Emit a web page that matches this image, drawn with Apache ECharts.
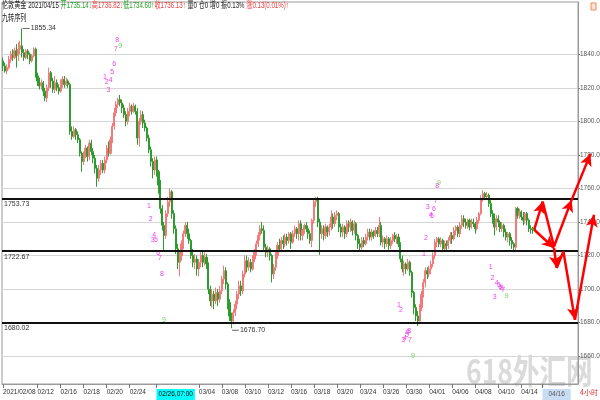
<!DOCTYPE html>
<html><head><meta charset="utf-8">
<script src="https://cdn.jsdelivr.net/npm/echarts@6/dist/echarts.min.js"></script>
<style>html,body{margin:0;padding:0;background:#fff}#c{width:600px;height:400px}</style>
</head><body><div id="c"></div>
<script>
// [open, close, low, high] per 4h bar
const candles1 = [
[1836,1833,1830,1838],[1833,1830,1829,1835],[1830,1832,1828,1834],[1832,1837,1831,1839],[1837,1840,1835,1842],
[1840,1838,1836,1843],[1838,1842,1837,1844],[1842,1839,1832,1846],[1839,1843,1836,1847],[1843,1845,1840,1848],
[1845,1841,1838,1855.34],[1841,1838,1836,1843],[1838,1842,1837,1843],[1842,1840,1837,1843],[1840,1836,1834,1841],
[1836,1839,1835,1840],[1839,1843,1838,1844],[1843,1827,1826,1844],[1827,1824,1821,1829],[1824,1821,1819,1826],
[1821,1823,1819,1825],[1823,1818,1815,1824],[1818,1814,1812,1820],[1814,1820,1811.5,1822],[1820,1829,1818,1832],
[1829,1824,1820,1830],[1824,1819,1817,1826],[1819,1823,1817,1827],[1823,1820,1818,1825],[1820,1818,1816,1822],
[1818,1822,1817,1825],[1822,1825,1820,1827],[1825,1822,1820,1827],[1822,1824,1821,1826],[1824,1822,1820,1825],
[1822,1794,1792,1823],[1794,1791,1789,1797],[1791,1795,1790,1797],[1795,1792,1789,1796],[1792,1789,1787,1794],
[1789,1781,1779,1790],[1781,1776,1770,1782],[1776,1780,1774,1782],[1780,1784,1778,1786],[1784,1779,1776,1785],
[1779,1787,1777,1789],[1787,1782,1780,1789],[1782,1778,1775,1784],[1778,1772,1769,1780],[1772,1766,1761,1774],
[1766,1771,1764,1774],[1771,1775,1768,1777],[1775,1771,1769,1777],[1771,1777,1769,1779],[1777,1784,1775,1786],
[1784,1781,1779,1788],[1781,1789,1780,1791],[1789,1797,1787,1799],[1797,1805,1795,1808],[1805,1810,1803,1812],
[1810,1813,1808,1814],[1813,1811,1809,1815.7],[1811,1808,1805,1813],[1808,1804,1802,1810],[1804,1800,1797,1806],
[1800,1806,1798,1808],[1806,1809,1803,1811],[1809,1806,1804,1810],[1806,1809,1805,1811],[1809,1806,1804,1810],
[1806,1790,1786,1808],[1790,1800,1785,1802],[1800,1804,1798,1806.5],[1804,1799,1796,1806],[1799,1796,1794,1801],
[1796,1790,1788,1797],[1790,1783,1781,1792],[1783,1776,1773,1785],[1776,1771,1766,1778],[1771,1777,1768,1779],
[1777,1770,1767,1779],[1770,1762,1757,1771],[1762,1748,1745,1765],[1748,1738,1735,1750],[1738,1732,1723,1740],
[1732,1745,1730,1747],[1745,1752,1743,1755],[1752,1758,1749,1760],[1758,1745,1742,1759],[1745,1736,1733,1747],
[1736,1724,1721,1738],[1724,1716,1712,1727],[1716,1720,1707.6,1723]
];
const candles2 = [
[1720,1727,1717,1729],[1727,1733,1724,1735],[1733,1738,1731,1740],[1738,1733,1730,1740],[1733,1729,1727,1736],
[1729,1720,1718,1730],[1720,1716,1713,1724],[1716,1718,1712,1721],[1718,1712,1708,1720],[1712,1716,1707.6,1718],
[1716,1720,1713,1722],[1720,1716,1713,1722.5],[1716,1719,1714,1722],[1719,1715,1712,1721],[1715,1700,1697,1716],
[1700,1693,1690,1702],[1693,1697,1689,1700],[1697,1693,1688,1699],[1693,1698,1691,1701],[1698,1694,1690,1700],
[1694,1699,1692,1702],[1699,1706,1697,1708],[1706,1711,1703,1714],[1711,1703,1700,1713],[1703,1692,1688,1704],
[1692,1684,1681,1694],[1684,1681,1676.7,1686],[1681,1686,1679,1688],[1686,1691,1684,1693],[1691,1697,1688,1699],
[1697,1702,1694,1705],[1702,1699,1696,1705],[1699,1709,1697,1711],[1709,1717,1707,1720],[1717,1713,1710,1720],
[1713,1716,1711,1719],[1716,1712,1710,1718],[1712,1718,1711,1720],[1718,1722,1716,1724],[1722,1727,1720,1729],
[1727,1732,1725,1734],[1732,1736,1729,1738],[1736,1735,1733,1740],[1735,1725,1723,1738],[1725,1722,1719,1727],
[1722,1724,1719,1726],[1724,1720,1717,1725],[1720,1709,1704,1721],[1709,1713,1706,1715],[1713,1720,1711,1722],
[1720,1726,1718,1728],[1726,1724,1722,1730],[1724,1729,1722,1731],[1729,1727,1724,1732],[1727,1731,1725,1733],
[1731,1729,1726,1733],[1729,1733,1727,1734],[1733,1728,1724,1734],[1728,1733,1727,1735],[1733,1736,1731,1738],
[1736,1733,1730,1737],[1733,1739,1729,1741],[1739,1732,1729,1741],[1732,1735,1729,1736],[1735,1738,1733,1739],
[1738,1736,1734,1740],[1736,1733,1730,1738],[1733,1729,1727,1735],[1729,1741,1725,1742],[1741,1752,1739,1754],
[1752,1754,1749,1755],[1754,1740,1737,1755],[1740,1733,1720.5,1742],[1733,1736,1730,1738],[1736,1732,1729,1738],
[1732,1737,1730,1739],[1737,1734,1731,1738],[1734,1737,1732,1739],[1737,1743,1735,1747],[1743,1739,1736,1745],
[1739,1744,1737,1746],[1744,1745,1741,1747],[1745,1737,1734,1746],[1737,1734,1731,1739],[1734,1737,1731,1739],
[1737,1733,1730,1738],[1733,1739,1731,1741],[1739,1737,1734,1741],[1737,1740,1734,1742],[1740,1735,1732,1741],
[1735,1739,1733,1741],[1739,1732,1729,1740],[1732,1727,1724,1733]
];
const candles3 = [
[1727,1725,1722.5,1730],[1725,1729,1723,1731],[1729,1727,1725,1731],[1727,1731,1726,1733],[1731,1734,1729,1736],
[1734,1731,1729,1736],[1731,1734,1729,1736],[1734,1732,1730,1735],[1732,1735,1731,1737],[1735,1733,1731,1737],
[1733,1738,1731,1743],[1738,1728,1726,1740],[1728,1730,1725,1732],[1730,1727,1724,1731],[1727,1730,1725,1732],
[1730,1726,1723.5,1731],[1726,1729,1724,1731],[1729,1732,1727,1733],[1732,1730,1728,1734],[1730,1731,1727,1733],
[1731,1727,1725,1733],[1727,1718,1716,1728],[1718,1712,1710,1720],[1712,1715,1708,1717],[1715,1712,1709,1716],
[1712,1716,1711,1718],[1716,1710,1708,1717],[1710,1698,1695,1711],[1698,1689,1685,1699],[1689,1684,1681,1691],
[1684,1681,1678,1687],[1681,1689,1679,1691],[1689,1697,1687,1699],[1697,1704,1695,1706],[1704,1711,1701,1713],
[1711,1709,1706,1713],[1709,1712,1707,1714],[1712,1715,1709,1717],[1715,1720,1713,1722],[1720,1728,1718,1730],
[1728,1730,1725,1731],[1730,1727,1725,1731],[1727,1729,1725,1731],[1729,1724,1722,1730],[1724,1727,1722,1729],
[1727,1726,1723,1729],[1726,1729,1724,1731],[1729,1732,1727,1734],[1732,1730,1727,1734],[1730,1735,1729,1737],
[1735,1737,1732,1738],[1737,1733,1731,1738],[1733,1738,1731,1740],[1738,1742,1736,1744],[1742,1740,1737,1744],
[1740,1738,1736,1742],[1738,1741,1736,1742],[1741,1737,1735,1742],[1737,1740,1736,1742],[1740,1739,1737,1742],
[1739,1736,1733,1740],[1736,1741,1735,1743],[1741,1745,1739,1746],[1745,1754,1744,1756],[1754,1757,1752,1759],
[1757,1755,1753,1758],[1755,1756,1753,1758],[1756,1751,1749,1757],[1751,1745,1743,1753],[1745,1741,1739,1747],
[1741,1737,1732,1745],[1737,1742,1735,1744],[1742,1740,1737,1744],[1740,1736,1734,1741],[1736,1738,1734,1740],
[1738,1734,1731,1739],[1734,1731,1729,1736],[1731,1733,1728,1734],[1733,1729,1726,1734],[1729,1727,1724,1731],
[1727,1725,1722,1728],[1725,1748,1723,1749],[1748,1744,1742,1749],[1744,1746,1742,1748],[1746,1743,1741,1747],
[1743,1741,1738,1746],[1741,1745,1739,1746],[1745,1741,1738,1746],[1741,1736,1734,1742],[1736,1735.5,1733,1738],
[1735.5,1735.14,1733,1737],[1735.14,1736.13,1734.60,1736.82]
];
const xTickIdx  = [0,18,30,42,54,66,80,102,114,126,138,150,162,174,186,198,210,222,234,246,258,270,281];
const xTickText = ['2021/02/08','02/12','02/16','02/18','02/20','02/24','02/26,07:00','03/04','03/08','03/10','03/12','03/16','03/18','03/20','03/24','03/26','03/30','04/01','04/06','04/08','04/10','04/14','04/16'];
const yTicks = [1660,1680,1700,1720,1740,1760,1780,1800,1820,1840];
const levels = [1753.73,1722.67,1680.02];
const lastPrice = 1736.13;
const highMark = [10,1855.34];
const lowMark = [119,1676.70];
const forecastUp = [[276.7,1735.4],[281.1,1752.2],[287,1725.4],[296.2,1753.2],[306,1780.6]];
const forecastUpArrow = [1,0,1,1];
const forecastDown = [[276.7,1735.4],[287,1724.5],[288.4,1712.6],[291.9,1722.4],[297.9,1681.8],[307.8,1744.3]];
const forecastDownArrow = [1,1,0,1,1];
const tdCounts = [
[53.1,1826.5,1],[54,1823.3,2],[54.9,1818.7,3],[56.1,1824.6,4],[56.9,1829.6,5],[58,1833.9,6],[58.9,1843.1,7],[59.5,1848.4,8],[61,1845,9],
[76,1749.6,1],[76.9,1741.7,2],[78,1729,3],[78.8,1732.4,4],[79.7,1729,5],[80.9,1721.5,6],[81.8,1718.5,7],[82.8,1709.2,8],[83.9,1681.8,9],
[206.3,1690.7,1],[207.3,1687.3,2],[208.5,1669.9,3],[209.4,1670.8,4],[210.4,1672.6,5],[210.9,1674.6,6],[212,1669.5,7],[211.6,1675.2,8],[213.5,1660.4,9],
[219.3,1721.1,1],[220.3,1730.4,2],[221.2,1748.9,3],[222.8,1744.3,4],[223.4,1743.7,5],[224.5,1747.7,6],[225.4,1752.2,7],[226.2,1761.5,8],[227.1,1763.5,9],
[254,1713.2,1],[255,1706.6,2],[256.1,1695.3,3],[257.1,1703.6,4],[258.3,1702.6,5],[259,1701.5,6],[260.6,1699.6,7],[259.7,1700.7,8],[262.3,1696.1,9]
];
const infoText = ['伦敦黄金','2021/04/15','量0','仓0','增0','振0.13%','涨0.13(0.01%)↑','九转序列'];

const candles = candles1.concat(candles2, candles3);
const slots = 300;
const categories = Array.from({length: slots}, (_, i) => String(i));
const labelMap = {};
xTickIdx.forEach((k, j) => { labelMap[k] = xTickText[j]; });
const yMin = 1643.47, yMax = 1871.1;
const gridL = 2, gridR = 22, gridT = 2, gridB = 16;
const step = (600 - gridL - gridR) / slots;
const wideMax = -0.5 + (600 - gridL) / step;
const NARROW = '"Liberation Sans Narrow","Liberation Sans",sans-serif';
const last = candles[candles.length - 1];

function segs(path, flags) {
  const out = [];
  for (let i = 0; i < path.length - 1; i++) {
    out.push([{coord: path[i], symbol: 'none'}, {coord: path[i + 1], symbol: flags[i] ? 'arrow' : 'none'}]);
  }
  return out;
}

const titleRich = '{k|' + infoText[0] + ' ' + infoText[1] + ' }' +
  '{g|开' + last[0].toFixed(2) + '↓}' + '{r|高' + last[3].toFixed(2) + '↓}' +
  '{g|低' + last[2].toFixed(2) + '↑}' + '{r|收' + last[1].toFixed(2) + '↑}' +
  '{k| ' + infoText[2] + ' ' + infoText[3] + ' ' + infoText[4] + ' ' + infoText[5] + ' }' +
  '{r|' + infoText[6] + '}';

const chart = echarts.init(document.getElementById('c'), null, {renderer: 'canvas'});
chart.setOption({
  animation: false,
  backgroundColor: '#ffffff',
  grid: [
    {left: gridL, right: gridR, top: gridT, bottom: gridB, show: true, borderColor: '#9a9a9a', borderWidth: 1, backgroundColor: 'transparent', outerBoundsMode: 'none'},
    {left: gridL, right: 0, top: gridT, bottom: gridB, show: false, outerBoundsMode: 'none'}
  ],
  xAxis: [
    {type: 'category', gridIndex: 0, data: categories, boundaryGap: true,
     name: '4小时', nameLocation: 'end', nameGap: 2,
     nameTextStyle: {color: '#e8302a', fontSize: 7, verticalAlign: 'top', padding: [5, 0, 0, 0], fontFamily: 'Noto Sans CJK SC'},
     axisLine: {show: true, lineStyle: {color: '#9a9a9a', width: 1}},
     axisTick: {show: true, alignWithLabel: true, length: 4, interval: (i) => labelMap[i] !== undefined, lineStyle: {color: '#777'}},
     axisLabel: {show: true, interval: (i) => labelMap[i] !== undefined, align: 'left', margin: 5,
       showMinLabel: true, showMaxLabel: true, hideOverlap: false,
       fontSize: 6.5, color: '#333', fontFamily: NARROW,
       formatter: (v, i) => {
         const t = labelMap[i];
         if (i === 80) return '{hl|' + t + '}';
         if (i === 281) return '{fut|' + t + '}';
         return t;
       },
       rich: {
         hl: {backgroundColor: '#00ffff', color: '#000', padding: [2, 2, 2, 2], fontSize: 6.5, fontFamily: NARROW},
         fut: {backgroundColor: '#c8dcf4', color: '#555', padding: [2, 6, 2, 6], fontSize: 6.5, fontFamily: NARROW}
       }},
     splitLine: {show: false}},
    {type: 'value', gridIndex: 1, min: -0.5, max: wideMax, show: false}
  ],
  yAxis: [
    {type: 'value', gridIndex: 0, position: 'right', min: yMin, max: yMax, scale: true,
     axisLine: {show: true, lineStyle: {color: '#9a9a9a'}},
     axisTick: {show: true, length: 2, customValues: yTicks, lineStyle: {color: '#777'}},
     axisLabel: {show: true, customValues: yTicks, margin: 2, fontSize: 6.5, color: '#555', fontFamily: NARROW,
       formatter: (v) => Number(v).toFixed(2)},
     splitLine: {show: false}},
    {type: 'value', gridIndex: 1, min: yMin, max: yMax, show: false}
  ],
  series: [
    {type: 'line', xAxisIndex: 0, yAxisIndex: 0, data: [], z: 1, silent: true,
     markLine: {silent: true, z: 1, symbol: ['none', 'none'], label: {show: false},
       lineStyle: {color: '#d6d6d6', width: 1, type: 'solid'}, emphasis: {disabled: true},
       data: yTicks.map(v => ({yAxis: v}))}},
    {type: 'candlestick', xAxisIndex: 0, yAxisIndex: 0, data: candles, z: 3,
     barWidth: 1.6,
     itemStyle: {color: '#f27a7a', color0: '#2e9b2e', borderColor: '#f27a7a', borderColor0: '#2e9b2e', borderWidth: 1},
     markLine: {silent: true, symbol: ['none', 'none'],
       lineStyle: {color: '#111', width: 2, type: 'solid'},
       label: {show: true, position: 'insideStartBottom', distance: 2, fontSize: 7, color: '#333', fontFamily: NARROW,
         formatter: (p) => Number(p.value).toFixed(2)},
       emphasis: {disabled: true},
       data: levels.map(v => ({yAxis: v})).concat([{
         yAxis: lastPrice, lineStyle: {opacity: 0},
         label: {position: 'end', distance: 3, color: '#f03a2a', fontSize: 6.5, fontFamily: NARROW,
           formatter: (p) => Number(p.value).toFixed(2)}}])},
     markPoint: {silent: true,
       data: [
         {coord: [highMark[0], highMark[1]], value: highMark[1], symbol: 'rect', symbolSize: [7, 1], symbolOffset: [4, 0],
          itemStyle: {color: '#666'}},
         {coord: [lowMark[0], lowMark[1]], value: lowMark[1], symbol: 'rect', symbolSize: [7, 1], symbolOffset: [4, 2],
          itemStyle: {color: '#666'}}
       ],
       label: {show: true, position: 'right', distance: 1, fontSize: 7, color: '#333', fontFamily: NARROW,
         formatter: (p) => Number(p.value).toFixed(2)}}},
    {type: 'scatter', xAxisIndex: 1, yAxisIndex: 1, z: 4, silent: true, symbolSize: 2,
     itemStyle: {color: 'rgba(0,0,0,0)'},
     data: tdCounts.map(d => ({value: d, label: {color: d[2] === 9 ? '#6fd35a' : '#ee44ee'}})),
     label: {show: true, position: 'inside', opacity: 1, fontSize: 7, fontFamily: NARROW, formatter: (p) => String(p.value[2])}},
    {type: 'line', xAxisIndex: 1, yAxisIndex: 1, data: [forecastUp[0]], symbol: 'none', silent: true, clip: false,
     lineStyle: {opacity: 0}, z: 6,
     markLine: {silent: true, symbolSize: [9, 12], label: {show: false}, emphasis: {disabled: true},
       lineStyle: {color: '#ff0000', width: 2.5, type: 'solid'},
       data: segs(forecastUp, forecastUpArrow).concat(segs(forecastDown, forecastDownArrow))}}
  ],
  graphic: [
    {type: 'text', x: 466, y: 354, scaleX: 0.78, z: -10, silent: true,
     style: {text: '618外汇网', fill: '#d4d4d4', opacity: 0.85, font: 'bold 34px "Noto Sans CJK SC", sans-serif'}},
    {type: 'text', x: 2, y: 1, scaleX: 0.68, silent: true,
     style: {text: titleRich, font: '9px "Liberation Sans","Noto Sans CJK SC",sans-serif', fill: '#222', verticalAlign: 'top',
       rich: {
         k: {fill: '#222', font: '9px "Liberation Sans","Noto Sans CJK SC",sans-serif'},
         g: {fill: '#22a022', font: '9px "Liberation Sans","Noto Sans CJK SC",sans-serif'},
         r: {fill: '#f03c3c', font: '9px "Liberation Sans","Noto Sans CJK SC",sans-serif'}
       }}},
    {type: 'text', x: 2, y: 13.5, scaleX: 0.68, silent: true,
     style: {text: infoText[7], font: '9px "Noto Sans CJK SC",sans-serif', fill: '#222', verticalAlign: 'top'}},
    {type: 'rect', x: 591, y: 3, silent: true, shape: {x: 0, y: 0, width: 5, height: 7},
     style: {fill: '#fde4d6', stroke: '#f08a5a', lineWidth: 1}}
  ]
});
</script>
</body></html>
